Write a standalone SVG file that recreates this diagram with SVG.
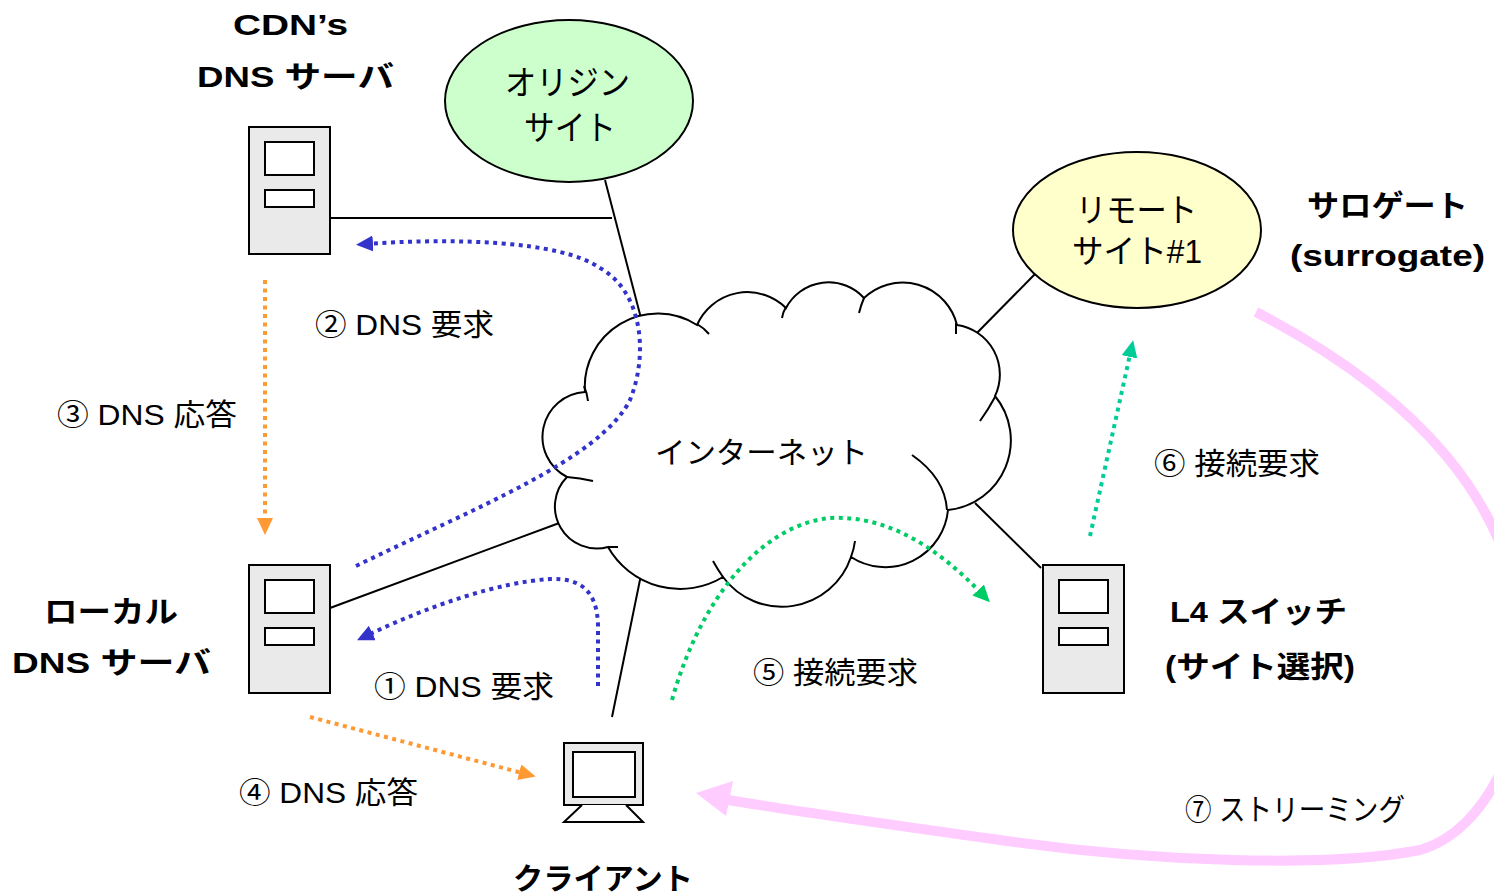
<svg xmlns="http://www.w3.org/2000/svg" width="1494" height="894" viewBox="0 0 1494 894">
<style>
text{font-family:"Liberation Sans","Noto Sans CJK JP",sans-serif;fill:#000}
.lbl{font-size:30px}
.b{font-size:30px;font-weight:bold}
.ln{stroke:#000;stroke-width:2;fill:none}
.srv{fill:#EAEAEA;stroke:#000;stroke-width:2}
.win{fill:#fff;stroke:#000;stroke-width:2}
.dot{fill:none;stroke-width:4;stroke-dasharray:4 4.5}
</style>
<defs>
<marker id="hb" markerUnits="userSpaceOnUse" markerWidth="18" markerHeight="16" refX="7" refY="8" orient="auto"><path d="M0,0 L17,8 L0,16 z" fill="#3333CC"/></marker>
<marker id="ho" markerUnits="userSpaceOnUse" markerWidth="18" markerHeight="16" refX="7" refY="8" orient="auto"><path d="M0,0 L17,8 L0,16 z" fill="#FF9933"/></marker>
<marker id="hg" markerUnits="userSpaceOnUse" markerWidth="18" markerHeight="16" refX="7" refY="8" orient="auto"><path d="M0,0 L17,8 L0,16 z" fill="#00CC66"/></marker>
<marker id="ht" markerUnits="userSpaceOnUse" markerWidth="18" markerHeight="16" refX="7" refY="8" orient="auto"><path d="M0,0 L17,8 L0,16 z" fill="#00CC99"/></marker>
</defs>
<rect width="1494" height="894" fill="#fff"/>

<g id="links">
<path class="ln" d="M330,218 L612,218"/>
<path class="ln" d="M605,180 L642,322"/>
<path class="ln" d="M330,608 L562,522"/>
<path class="ln" d="M612,717 L642,570"/>
<path class="ln" d="M1035,274 L972,338"/>
<path class="ln" d="M975,503 L1041,568"/>
</g>

<g id="internet">
<path d="M585,392 A73,73 0 0 1 697,325 A55,55 0 0 1 786,308 A48,48 0 0 1 864,298 A56,56 0 0 1 957,325 A50,50 0 0 1 995,396 A70,70 0 0 1 948,510 A63,63 0 0 1 851,557 A73,73 0 0 1 723,577 A83,83 0 0 1 608,547 A42,42 0 0 1 567,477 A45,45 0 0 1 585,392 Z" fill="#fff" stroke="#000" stroke-width="2"/>
<path class="ln" d="M584,386 Q587,393 588,401 M697,324 Q704,328 709,334 M786,307 Q783,312 782,318 M864,298 Q861,305 859,313 M956,323 L956,334 M995,397 Q988,410 980,421 M912,455 Q945,478 947,510 M855,541 Q854,549 851,557 M713,561 Q718,570 723,577 M608,547 L618,547 M567,477 Q580,478 593,481"/>
<text class="lbl" x="655" y="463" textLength="213" lengthAdjust="spacingAndGlyphs">インターネット</text>
</g>

<g id="origin">
<ellipse cx="569" cy="101" rx="124" ry="81" fill="#CCFFCC" stroke="#000" stroke-width="2"/>
<text x="505" y="95" font-size="34" textLength="125" lengthAdjust="spacingAndGlyphs">オリジン</text>
<text x="524" y="140" font-size="34" textLength="92" lengthAdjust="spacingAndGlyphs">サイト</text>
</g>

<g id="remote">
<ellipse cx="1137" cy="230" rx="124" ry="78" fill="#FFFFCC" stroke="#000" stroke-width="2"/>
<text x="1076" y="222" font-size="33" textLength="121" lengthAdjust="spacingAndGlyphs">リモート</text>
<text x="1072" y="263" font-size="33" textLength="130" lengthAdjust="spacingAndGlyphs">サイト#1</text>
</g>

<g id="surrogate-label">
<text class="b" x="1307" y="216" font-size="32" textLength="161" lengthAdjust="spacingAndGlyphs">サロゲート</text>
<text class="b" x="1290" y="266" textLength="195" lengthAdjust="spacingAndGlyphs">(surrogate)</text>
</g>

<g id="cdn-dns">
<rect class="srv" x="249" y="127" width="81" height="127"/>
<rect class="win" x="265" y="142" width="49" height="33"/>
<rect class="win" x="265" y="190" width="49" height="17"/>
<text class="b" x="233" y="35" textLength="115" lengthAdjust="spacingAndGlyphs">CDN’s</text>
<text class="b" x="197" y="87" textLength="197" lengthAdjust="spacingAndGlyphs">DNS サーバ</text>
</g>

<g id="local-dns">
<rect class="srv" x="249" y="565" width="81" height="128"/>
<rect class="win" x="265" y="580" width="49" height="33"/>
<rect class="win" x="265" y="628" width="49" height="17"/>
<text class="b" x="44" y="622" textLength="134" lengthAdjust="spacingAndGlyphs">ローカル</text>
<text class="b" x="12" y="673" textLength="199" lengthAdjust="spacingAndGlyphs">DNS サーバ</text>
</g>

<g id="l4switch">
<rect class="srv" x="1043" y="565" width="81" height="128"/>
<rect class="win" x="1059" y="580" width="49" height="33"/>
<rect class="win" x="1059" y="628" width="49" height="17"/>
<text class="b" x="1170" y="622" textLength="177" lengthAdjust="spacingAndGlyphs">L4 スイッチ</text>
<text class="b" x="1165" y="677" textLength="190" lengthAdjust="spacingAndGlyphs">(サイト選択)</text>
</g>

<g id="client">
<rect class="srv" x="564" y="743" width="79" height="62"/>
<rect class="win" x="573" y="752" width="62" height="45"/>
<path d="M582,805 L564,822 L643,822 L626,805" fill="#fff" stroke="#000" stroke-width="2"/>
<text class="b" x="513" y="889" textLength="180" lengthAdjust="spacingAndGlyphs">クライアント</text>
</g>

<g id="connectors">
<path class="dot" stroke="#3333CC" d="M356,566 C470,510 600,460 630,400 C650,350 640,290 600,268 C560,240 450,238 366,244" marker-end="url(#hb)"/>
<path class="dot" stroke="#3333CC" d="M598,686 L598,625 C597,590 580,578 550,579 C500,582 430,605 366,636" marker-end="url(#hb)"/>
<path class="dot" stroke="#FF9933" d="M265,280 L265,525" marker-end="url(#ho)"/>
<path class="dot" stroke="#FF9933" d="M310,717 L526,774" marker-end="url(#ho)"/>
<path class="dot" stroke="#00CC66" d="M672,700 C700,600 760,525 830,518 C890,515 940,550 983,595" marker-end="url(#hg)"/>
<path class="dot" stroke="#00CC99" d="M1090,536 L1131,350" marker-end="url(#ht)"/>
<path d="M1256,312 C1410,392 1520,500 1525,660 C1528,730 1490,830 1420,850 C1330,868 1150,862 1000,840 C900,826 800,812 728,800" fill="none" stroke="#FFCCFF" stroke-width="10"/>
<path d="M696,793 L733,781 L726,816 z" fill="#FFCCFF"/>
</g>

<g id="labels">
<text class="lbl" x="315" y="335" textLength="179" lengthAdjust="spacingAndGlyphs">② DNS 要求</text>
<text class="lbl" x="57" y="425" textLength="180" lengthAdjust="spacingAndGlyphs">③ DNS 応答</text>
<text class="lbl" x="374" y="697" textLength="180" lengthAdjust="spacingAndGlyphs">① DNS 要求</text>
<text class="lbl" x="239" y="803" textLength="179" lengthAdjust="spacingAndGlyphs">④ DNS 応答</text>
<text class="lbl" x="753" y="683" textLength="165" lengthAdjust="spacingAndGlyphs">⑤ 接続要求</text>
<text class="lbl" x="1154" y="474" textLength="166" lengthAdjust="spacingAndGlyphs">⑥ 接続要求</text>
<text class="lbl" x="1185" y="820" textLength="220" lengthAdjust="spacingAndGlyphs">⑦ ストリーミング</text>
</g>
</svg>
